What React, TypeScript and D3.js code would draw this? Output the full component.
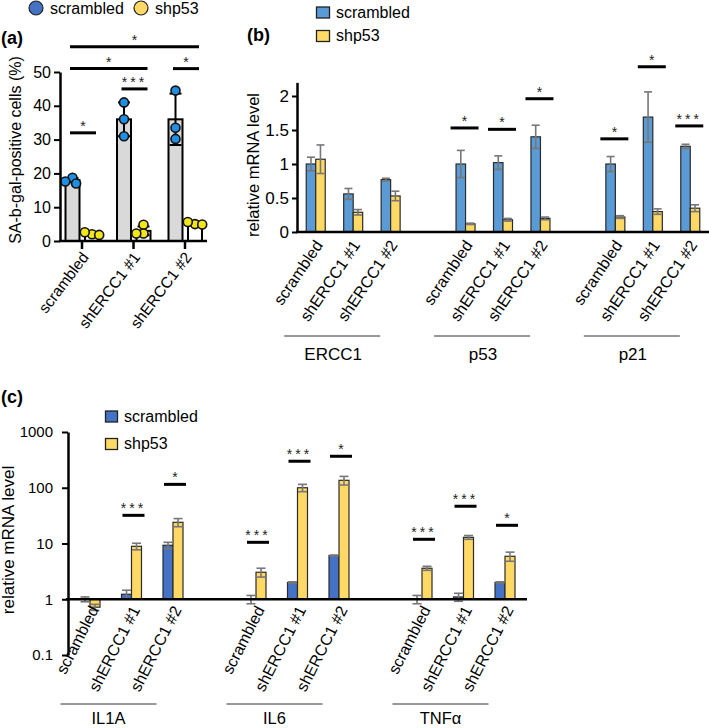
import * as d3 from 'd3'
import { useEffect, useRef } from 'react'

const W = 709, H = 728
const font = 'Arial, "Liberation Sans", Helvetica, sans-serif'

// ---- panel (a) data
const aGroups = ['scrambled', 'shERCC1 #1', 'shERCC1 #2']
const aScr = [18, 36, 36]
const aScrSd = [0.6, 5, 7.6]
const aShp = [2.2, 3, 5.2]
const aShpSd = [0.3, 1.3, 0.3]
const aScrPts = [[18.7, 17.6, 17.0], [41, 36, 31], [44.5, 33.5, 30.2]]
const aShpPts = [[2.0, 2.6, 1.8], [4.8, 2.2, 2.2], [5.0, 5.6, 4.9]]
// [from group, to group, height, label]
const aSig: [number, number, number, string][] = [
  [0, 0, 32, '*'], [1, 1, 45, '***'], [0, 1, 51, '*'], [2, 2, 51, '*'], [0, 2, 57.5, '*'],
]

// ---- panel (b) data
const bTargets = ['ERCC1', 'p53', 'p21']
const bConds = ['scrambled', 'shERCC1 #1', 'shERCC1 #2']
const bScr = [1.0, 0.56, 0.77, 1.0, 1.02, 1.4, 1.0, 1.69, 1.26]
const bScrErr = [0.1, 0.08, 0.02, 0.2, 0.1, 0.17, 0.11, 0.37, 0.03]
const bShp = [1.07, 0.29, 0.53, 0.12, 0.18, 0.2, 0.22, 0.3, 0.35]
const bShpErr = [0.21, 0.04, 0.07, 0.01, 0.02, 0.02, 0.02, 0.04, 0.05]
const bSigY = [0, 0, 0, 1.53, 1.51, 1.96, 1.37, 2.43, 1.56]
const bSigLabel = ['', '', '', '*', '*', '*', '*', '*', '***']

// ---- panel (c) data
const cTargets = ['IL1A', 'IL6', 'TNFα']
const cConds = ['scrambled', 'shERCC1 #1', 'shERCC1 #2']
const cScr = [1.0, 1.23, 9.3, 1.0, 2.0, 6.1, 1.0, 1.1, 2.0]
const cScrErr = [0.1, 0.22, 1.2, 0.17, 0.05, 0.1, 0.17, 0.18, 0.05]
const cShp = [0.72, 8.9, 24, 3.05, 100, 136, 3.6, 12.9, 5.9]
const cShpErr = [0.09, 1.2, 4, 0.55, 15, 24, 0.3, 1.0, 1.1]
const cSigY = [0, 32, 115, 10.5, 299, 367, 11.9, 46.6, 21.2]
const cSigLabel = ['', '***', '*', '***', '***', '*', '***', '***', '*']

const blueB = '#5b9bd5', yellowB = '#ffd966'
const blueC = '#4472c4', yellowC = '#ffd966'

const styleAxis = (a, size) => {
  a.attr('font-size', size).attr('font-family', font)
  a.select('.domain').attr('stroke-width', 2.5)
  a.selectAll('.tick line').attr('stroke-width', 2)
}

const errBar = (g, x, y0, y1, cap, color, w) => {
  g.append('line').attr('x1', x).attr('x2', x).attr('y1', y0).attr('y2', y1)
    .attr('stroke', color).attr('stroke-width', w)
  for (const yy of [y0, y1]) {
    g.append('line').attr('x1', x - cap / 2).attr('x2', x + cap / 2).attr('y1', yy).attr('y2', yy)
      .attr('stroke', color).attr('stroke-width', w)
  }
}

const star = (g, x1, x2, yy, label) => {
  g.append('line').attr('x1', x1).attr('x2', x2).attr('y1', yy).attr('y2', yy)
    .attr('stroke', '#000').attr('stroke-width', 3)
  g.append('text').attr('x', (x1 + x2) / 2).attr('y', yy - 2).attr('text-anchor', 'middle')
    .attr('font-size', 14).attr('letter-spacing', label.length > 1 ? 3 : 0).attr('fill', '#222')
    .text(label)
}

const swarm = (vals, cx, y, r) => {
  const placed = []
  return vals.map(v => {
    const py = y(v)
    for (const dx of [0, -r * 0.8, r * 0.8, -r * 1.6, r * 1.6]) {
      if (placed.every(p => Math.hypot(p[0] - (cx + dx), p[1] - py) >= r * 1.5)) {
        placed.push([cx + dx, py]); return [cx + dx, py]
      }
    }
    placed.push([cx, py]); return [cx, py]
  })
}

const drawA = svg => {
  const g = svg.append('g').attr('font-family', font)
  const y = d3.scaleLinear().domain([0, 50]).range([241, 72])
  const x = d3.scalePoint().domain(aGroups).range([82, 185])
  const bw = 14

  // legend
  g.append('circle').attr('cx', 36).attr('cy', 8).attr('r', 7).attr('fill', blueC).attr('stroke', '#222').attr('stroke-width', 1.2)
  g.append('text').attr('x', 50).attr('y', 14).attr('font-size', 16).text('scrambled')
  g.append('circle').attr('cx', 141).attr('cy', 8).attr('r', 7).attr('fill', yellowC).attr('stroke', '#222').attr('stroke-width', 1.2)
  g.append('text').attr('x', 155).attr('y', 14).attr('font-size', 16).text('shp53')
  g.append('text').attr('x', 1).attr('y', 44).attr('font-size', 18).attr('font-weight', 'bold').text('(a)')

  g.selectAll('rect.scr').data(aGroups).join('rect')
    .attr('x', d => x(d) - 9.5 - bw / 2).attr('width', bw)
    .attr('y', (d, i) => y(aScr[i])).attr('height', (d, i) => y(0) - y(aScr[i]))
    .attr('fill', '#d9d9d9').attr('stroke', '#000').attr('stroke-width', 2)
  g.selectAll('rect.shp').data(aGroups).join('rect')
    .attr('x', d => x(d) + 10 - bw / 2).attr('width', bw)
    .attr('y', (d, i) => y(aShp[i])).attr('height', (d, i) => y(0) - y(aShp[i]))
    .attr('fill', '#fff').attr('stroke', '#000').attr('stroke-width', 2)

  aGroups.forEach((d, i) => {
    errBar(g, x(d) - 9.5, y(aScr[i] - aScrSd[i]), y(aScr[i] + aScrSd[i]), 12, '#000', 2)
    errBar(g, x(d) + 10, y(aShp[i] - aShpSd[i]), y(aShp[i] + aShpSd[i]), 12, '#000', 2)
  })
  aGroups.forEach((d, i) => {
    swarm(aScrPts[i], x(d) - 9.5, y, 4.5).forEach(([px, py]) =>
      g.append('circle').attr('cx', px).attr('cy', py).attr('r', 4.5).attr('fill', '#1e8fe1').attr('stroke', '#111').attr('stroke-width', 1.6))
    swarm(aShpPts[i], x(d) + 10, y, 4.5).forEach(([px, py]) =>
      g.append('circle').attr('cx', px).attr('cy', py).attr('r', 4.5).attr('fill', '#f2e51a').attr('stroke', '#111').attr('stroke-width', 1.6))
  })

  g.append('g').attr('transform', 'translate(60,0)')
    .call(d3.axisLeft(y).tickValues([0, 10, 20, 30, 40, 50]).tickSize(6).tickPadding(3).tickSizeOuter(0))
    .call(a => styleAxis(a, 16))
  g.append('line').attr('x1', 59).attr('x2', 207).attr('y1', 241).attr('y2', 241).attr('stroke', '#000').attr('stroke-width', 2.5)
  aGroups.forEach(d => {
    g.append('line').attr('x1', x(d)).attr('x2', x(d)).attr('y1', 241).attr('y2', 249).attr('stroke', '#000').attr('stroke-width', 2.5)
    g.append('text').attr('transform', `translate(${x(d) + 3},${254}) rotate(-53)`)
      .attr('text-anchor', 'end').attr('dy', '0.35em').attr('font-size', 15.5).text(d)
  })

  aSig.forEach(([f, t, v, l]) => star(g, x(aGroups[f]) - 12, x(aGroups[t]) + 14, y(v), l))

  g.append('text').attr('transform', 'translate(21,150) rotate(-90)').attr('text-anchor', 'middle')
    .attr('font-size', 16).text('SA-b-gal-positive cells (%)')
}

const drawB = svg => {
  const g = svg.append('g').attr('font-family', font)
  const y = d3.scaleLinear().domain([0, 2.2]).range([232, 82.4])
  const x = d3.scaleLinear().domain([-0.5, 10.5]).range([297, 709])
  const bw = 9.5
  const slots = bTargets.flatMap((t, ti) => bConds.map((c, ci) => ({ t, c, s: ti * 4 + ci })))

  g.append('text').attr('x', 247).attr('y', 41).attr('font-size', 18).attr('font-weight', 'bold').text('(b)')
  g.append('rect').attr('x', 316.5).attr('y', 7).attr('width', 13).attr('height', 11).attr('fill', blueB).attr('stroke', '#222').attr('stroke-width', 1.3)
  g.append('text').attr('x', 336).attr('y', 18).attr('font-size', 16).text('scrambled')
  g.append('rect').attr('x', 316.5).attr('y', 30.5).attr('width', 13).attr('height', 11).attr('fill', yellowB).attr('stroke', '#222').attr('stroke-width', 1.3)
  g.append('text').attr('x', 336).attr('y', 41).attr('font-size', 16).text('shp53')

  g.selectAll('rect.scr').data(slots).join('rect')
    .attr('x', d => x(d.s) - bw).attr('width', bw)
    .attr('y', (d, i) => y(bScr[i])).attr('height', (d, i) => y(0) - y(bScr[i]))
    .attr('fill', blueB).attr('stroke', '#2b2b2b').attr('stroke-width', 1.2)
  g.selectAll('rect.shp').data(slots).join('rect')
    .attr('x', d => x(d.s)).attr('width', bw)
    .attr('y', (d, i) => y(bShp[i])).attr('height', (d, i) => y(0) - y(bShp[i]))
    .attr('fill', yellowB).attr('stroke', '#2b2b2b').attr('stroke-width', 1.2)
  slots.forEach((d, i) => {
    errBar(g, x(d.s) - bw / 2, y(bScr[i] - bScrErr[i]), y(bScr[i] + bScrErr[i]), 8, '#777', 1.6)
    errBar(g, x(d.s) + bw / 2, y(bShp[i] - bShpErr[i]), y(bShp[i] + bShpErr[i]), 8, '#777', 1.6)
    if (bSigLabel[i]) star(g, x(d.s) - 15, x(d.s) + 13, y(bSigY[i]), bSigLabel[i])
    g.append('text').attr('transform', `translate(${x(d.s) + 3},${242}) rotate(-56)`)
      .attr('text-anchor', 'end').attr('dy', '0.35em').attr('font-size', 16).text(d.c)
  })

  g.append('g').attr('transform', 'translate(297,0)')
    .call(d3.axisLeft(y).tickValues([0, 0.5, 1, 1.5, 2]).tickFormat(d3.format('~g')).tickSize(5).tickPadding(3).tickSizeOuter(0))
    .call(a => styleAxis(a, 17))
  g.append('line').attr('x1', 296).attr('x2', 709).attr('y1', 232).attr('y2', 232).attr('stroke', '#000').attr('stroke-width', 2.5)

  bTargets.forEach((t, ti) => {
    const cx = x(ti * 4 + 1) - 21
    g.append('line').attr('x1', cx - 48).attr('x2', cx + 48).attr('y1', 336).attr('y2', 336).attr('stroke', '#333').attr('stroke-width', 1)
    g.append('text').attr('x', cx + 1).attr('y', 360).attr('text-anchor', 'middle').attr('font-size', 17).text(t)
  })

  g.append('text').attr('transform', 'translate(259,165) rotate(-90)').attr('text-anchor', 'middle')
    .attr('font-size', 16.5).text('relative mRNA level')
}

const drawC = svg => {
  const g = svg.append('g').attr('font-family', font)
  const y = d3.scaleLog().domain([0.1, 1000]).range([655, 432])
  const x = d3.scaleLinear().domain([-0.53, 10.53]).range([68, 527])
  const bw = 10
  const slots = cTargets.flatMap((t, ti) => cConds.map((c, ci) => ({ t, c, s: ti * 4 + ci })))

  g.append('text').attr('x', 1).attr('y', 403).attr('font-size', 18).attr('font-weight', 'bold').text('(c)')
  g.append('rect').attr('x', 105.5).attr('y', 411).attr('width', 12).attr('height', 11).attr('fill', blueC).attr('stroke', '#222').attr('stroke-width', 1.3)
  g.append('text').attr('x', 124).attr('y', 422).attr('font-size', 16).text('scrambled')
  g.append('rect').attr('x', 105.5).attr('y', 438.5).attr('width', 12).attr('height', 11).attr('fill', yellowC).attr('stroke', '#222').attr('stroke-width', 1.3)
  g.append('text').attr('x', 124).attr('y', 449).attr('font-size', 16).text('shp53')

  const y1 = y(1)
  g.selectAll('rect.scr').data(slots).join('rect')
    .attr('x', d => x(d.s) - bw).attr('width', bw)
    .attr('y', (d, i) => Math.min(y(cScr[i]), y1)).attr('height', (d, i) => Math.abs(y1 - y(cScr[i])))
    .attr('fill', blueC).attr('stroke', '#2b2b2b').attr('stroke-width', 1.2)
  g.selectAll('rect.shp').data(slots).join('rect')
    .attr('x', d => x(d.s)).attr('width', bw)
    .attr('y', (d, i) => Math.min(y(cShp[i]), y1)).attr('height', (d, i) => Math.abs(y1 - y(cShp[i])))
    .attr('fill', yellowC).attr('stroke', '#2b2b2b').attr('stroke-width', 1.2)
  slots.forEach((d, i) => {
    errBar(g, x(d.s) - bw / 2, y(cScr[i] - cScrErr[i]), y(cScr[i] + cScrErr[i]), 9, '#777', 1.6)
    errBar(g, x(d.s) + bw / 2, y(cShp[i] - cShpErr[i]), y(cShp[i] + cShpErr[i]), 9, '#777', 1.6)
    if (cSigLabel[i]) star(g, x(d.s) - 9, x(d.s) + 13, y(cSigY[i]), cSigLabel[i])
    g.append('text').attr('transform', `translate(${x(d.s) + 4},${607}) rotate(-63)`)
      .attr('text-anchor', 'end').attr('dy', '0.35em').attr('font-size', 16).text(d.c)
  })

  g.append('g').attr('transform', 'translate(68,0)')
    .call(d3.axisLeft(y).tickValues([0.1, 1, 10, 100, 1000]).tickFormat(d3.format('~g')).tickSize(6).tickPadding(9).tickSizeOuter(0))
    .call(a => styleAxis(a, 15))
  g.append('line').attr('x1', 66).attr('x2', 527).attr('y1', y1).attr('y2', y1).attr('stroke', '#000').attr('stroke-width', 2.5)

  cTargets.forEach((t, ti) => {
    const cx = x(ti * 4 + 1) - 23
    g.append('line').attr('x1', cx - 48).attr('x2', cx + 48).attr('y1', 704).attr('y2', 704).attr('stroke', '#333').attr('stroke-width', 1)
    g.append('text').attr('x', cx).attr('y', 724).attr('text-anchor', 'middle').attr('font-size', 16.5).text(t)
  })

  g.append('text').attr('transform', 'translate(14,540) rotate(-90)').attr('text-anchor', 'middle')
    .attr('font-size', 17).text('relative mRNA level')
}

export default function App() {
  const ref = useRef<SVGSVGElement>(null)
  useEffect(() => {
    const svg = d3.select(ref.current)
    svg.selectAll('*').remove()
    drawA(svg)
    drawB(svg)
    drawC(svg)
  }, [])
  return <svg ref={ref} width={W} height={H} style={{ position: 'absolute', left: 0, top: 0, background: '#fff' }} />
}
